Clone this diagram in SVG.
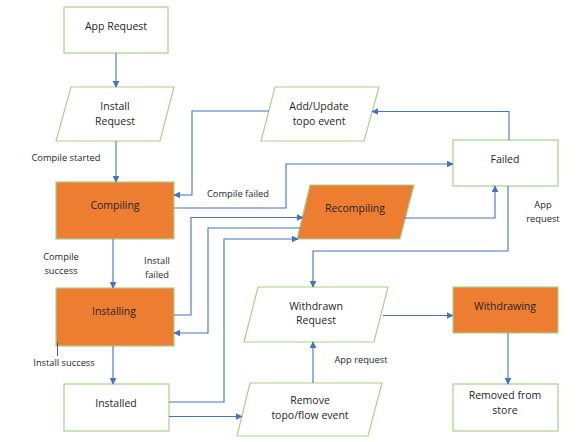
<svg xmlns="http://www.w3.org/2000/svg" width="583" height="442" viewBox="0 0 583 442">
<defs>
<marker id="ah" viewBox="0 0 10 10" refX="9" refY="5" markerWidth="7" markerHeight="7" markerUnits="userSpaceOnUse" orient="auto">
<path d="M0,0 L10,5 L0,10 z" fill="#4472C4"/>
</marker>
<style>
.n{fill:#fff;stroke:#A9D18E;stroke-width:1.2}
.o{fill:#ED7D31;stroke:#A9D18E;stroke-width:1.2}
.t{font-family:"Open Sans","Noto Sans","Liberation Sans",sans-serif;font-size:10.5px;fill:#262626;text-anchor:middle}
.l{font-family:"Open Sans","Noto Sans","Liberation Sans",sans-serif;font-size:9.3px;fill:#262626;text-anchor:middle}
.c{fill:none;stroke:#4472C4;stroke-width:1.1;marker-end:url(#ah)}
</style>
</defs>
<rect width="583" height="442" fill="#fff"/>
<g id="app-request"><rect class="n" x="64" y="7" width="104" height="46"/><text class="t" x="116" y="30">App Request</text></g>
<g id="install-request"><polygon class="n" points="71,87 174,87 160,141 56,141"/><text class="t" x="115" y="110">Install</text><text class="t" x="115" y="125">Request</text></g>
<g id="add-update"><polygon class="n" points="275,87 379,87 364,141 261,141"/><text class="t" x="319" y="110">Add/Update</text><text class="t" x="319" y="125">topo event</text></g>
<g id="failed"><rect class="n" x="453" y="140" width="105" height="46"/><text class="t" x="505" y="163">Failed</text></g>
<g id="compiling"><rect class="o" x="56" y="182" width="118" height="57"/><text class="t" x="115" y="209">Compiling</text></g>
<g id="recompiling"><polygon class="o" points="310,185 414,185 400,239 297,239"/><text class="t" x="355" y="212">Recompiling</text></g>
<g id="installing"><rect class="o" x="56" y="288" width="118" height="58"/><text class="t" x="114" y="315">Installing</text></g>
<g id="withdrawn-request"><polygon class="n" points="258,287 388,287 374,342 244,342"/><text class="t" x="316" y="310">Withdrawn</text><text class="t" x="316" y="324">Request</text></g>
<g id="withdrawing"><rect class="o" x="453" y="287" width="105" height="46"/><text class="t" x="505" y="310">Withdrawing</text></g>
<g id="installed"><rect class="n" x="64" y="384" width="105" height="47"/><text class="t" x="116" y="407">Installed</text></g>
<g id="remove-event"><polygon class="n" points="250,383 382,383 368,436 237,436"/><text class="t" x="310" y="404">Remove</text><text class="t" x="310" y="419">topo/flow event</text></g>
<g id="removed"><rect class="n" x="453" y="384" width="105" height="47"/><text class="t" x="505" y="399">Removed from</text><text class="t" x="505" y="414">store</text></g>
<g id="connectors">
<path class="c" d="M116,53 V87"/>
<path class="c" d="M116,141 V182"/>
<path class="c" d="M269,111 H192 V195 H174"/>
<path class="c" d="M509,140 V111.5 H372"/>
<path class="c" d="M174,208 H286 V164 H453"/>
<path class="c" d="M174,315 H191 V217.5 H303"/>
<path class="c" d="M300,228 H208 V333 H174"/>
<path class="c" d="M169,402 H224 V239 H298"/>
<path class="c" d="M404,218 H495 V186"/>
<path class="c" d="M508,186 V251 H313 V287"/>
<path class="c" d="M113,239 V288"/>
<path class="c" d="M113,346 V384"/>
<path class="c" d="M169,416.5 H242"/>
<path class="c" d="M313,383 V342"/>
<path class="c" d="M383,315.5 H453"/>
<path class="c" d="M508,333 V384"/>
<path d="M57.5,342 V356" stroke="#595959" stroke-width="1" fill="none"/>
</g>
<g id="labels">
<text class="l" x="66" y="161">Compile started</text>
<text class="l" x="238" y="197">Compile failed</text>
<text class="l" x="61" y="260">Compile</text>
<text class="l" x="61" y="274">success</text>
<text class="l" x="157" y="264">Install</text>
<text class="l" x="157" y="278">failed</text>
<text class="l" x="64" y="366">Install success</text>
<text class="l" x="543" y="208">App</text>
<text class="l" x="543" y="222">request</text>
<text class="l" x="361" y="363">App request</text>
</g>
</svg>
